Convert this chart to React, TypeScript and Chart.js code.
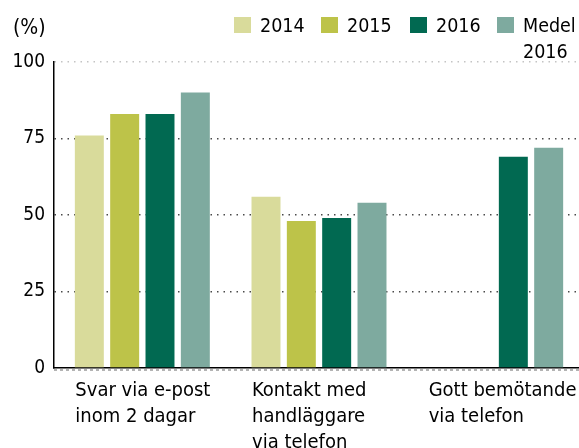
import React, { useEffect, useRef } from "react";
import { Chart, registerables } from "chart.js";

Chart.register(...registerables);

const categories: string[][] = [
  ["Svar via e-post", "inom 2 dagar"],
  ["Kontakt med", "handläggare", "via telefon"],
  ["Gott bemötande", "via telefon"],
];
const seriesNames: string[][] = [["2014"], ["2015"], ["2016"], ["Medel", "2016"]];
const values2014: (number | null)[] = [76, 56, null];
const values2015: (number | null)[] = [83, 48, null];
const values2016: (number | null)[] = [83, 49, 69];
const valuesMedel: (number | null)[] = [90, 54, 72];
const yTickValues: number[] = [0, 25, 50, 75, 100];
const unitLabel = "(%)";

const COLORS = ["#d9db9b", "#bdc349", "#016951", "#7eaa9f"];
const FONT = '"DejaVu Sans Condensed", "DejaVu Sans", sans-serif';

const legendPlugin = {
  id: "customLegend",
  afterDraw(chart: any) {
    const ctx = chart.ctx;
    ctx.save();
    ctx.fillStyle = "#000";
    ctx.textBaseline = "alphabetic";
    ctx.textAlign = "left";
    ctx.font = `21px ${FONT}`;
    ctx.fillText(unitLabel, 13, 34);
    ctx.font = `19.5px ${FONT}`;
    const boxX = [234, 321, 410, 497];
    seriesNames.forEach((lines, i) => {
      ctx.fillStyle = COLORS[i];
      ctx.fillRect(boxX[i], 17, 17, 16);
      ctx.fillStyle = "#000";
      lines.forEach((ln, j) => ctx.fillText(ln, boxX[i] + 26, 32 + j * 26));
    });
    const a = chart.chartArea;
    ctx.strokeStyle = "#9a9a9a";
    ctx.lineWidth = 1.5;
    ctx.setLineDash([3, 3]);
    ctx.beginPath();
    ctx.moveTo(a.left, a.bottom + 2);
    ctx.lineTo(a.right, a.bottom + 2);
    ctx.stroke();
    ctx.restore();
  },
};

export default function App() {
  const ref = useRef<HTMLCanvasElement | null>(null);
  useEffect(() => {
    if (!ref.current) return;
    const allValues = [values2014, values2015, values2016, valuesMedel];
    const chart = new Chart(ref.current, {
      type: "bar",
      data: {
        labels: categories,
        datasets: allValues.map((v, i) => ({
          label: seriesNames[i].join(" "),
          data: v,
          backgroundColor: COLORS[i],
          borderWidth: 0,
          categoryPercentage: 0.8,
          barPercentage: 0.82,
        })),
      },
      options: {
        animation: false,
        responsive: true,
        maintainAspectRatio: false,
        layout: { padding: { top: 62, left: 0, right: 0, bottom: 0 } },
        plugins: { legend: { display: false }, tooltip: { enabled: false } },
        scales: {
          x: {
            grid: { display: false },
            border: { display: true, color: "#000", width: 1.5 },
            ticks: {
              font: { family: FONT, size: 20, lineHeight: 1.3 },
              color: "#000",
              align: "start",
              labelOffset: -67,
              padding: 2,
              maxRotation: 0,
              autoSkip: false,
            },
            afterFit: (s: any) => {
              s.height = 80;
              s.paddingLeft = 0;
              s.paddingRight = 0;
            },
          },
          y: {
            min: 0,
            max: 100,
            afterBuildTicks: (s: any) => {
              s.ticks = yTickValues.map((v) => ({ value: v }));
            },
            grid: {
              drawTicks: false,
              lineWidth: 1.5,
              color: (c: any) =>
                c.tick && c.tick.value === 100 ? "#c4c4c4" : c.tick && c.tick.value === 0 ? "rgba(0,0,0,0)" : "#4a4a4a",
            },
            border: { display: true, color: "#000", width: 1.5, dash: [1.5, 5] },
            ticks: {
              font: { family: FONT, size: 19 },
              color: "#000",
              padding: 9,
            },
            afterFit: (s: any) => {
              s.width = 54;
              s.paddingTop = 0;
              s.paddingBottom = 0;
            },
          },
        },
      },
      plugins: [legendPlugin],
    });
    return () => chart.destroy();
  }, []);
  return (
    <div style={{ position: "fixed", left: 0, top: 0, width: 584, height: 448 }}>
      <canvas ref={ref} />
    </div>
  );
}
